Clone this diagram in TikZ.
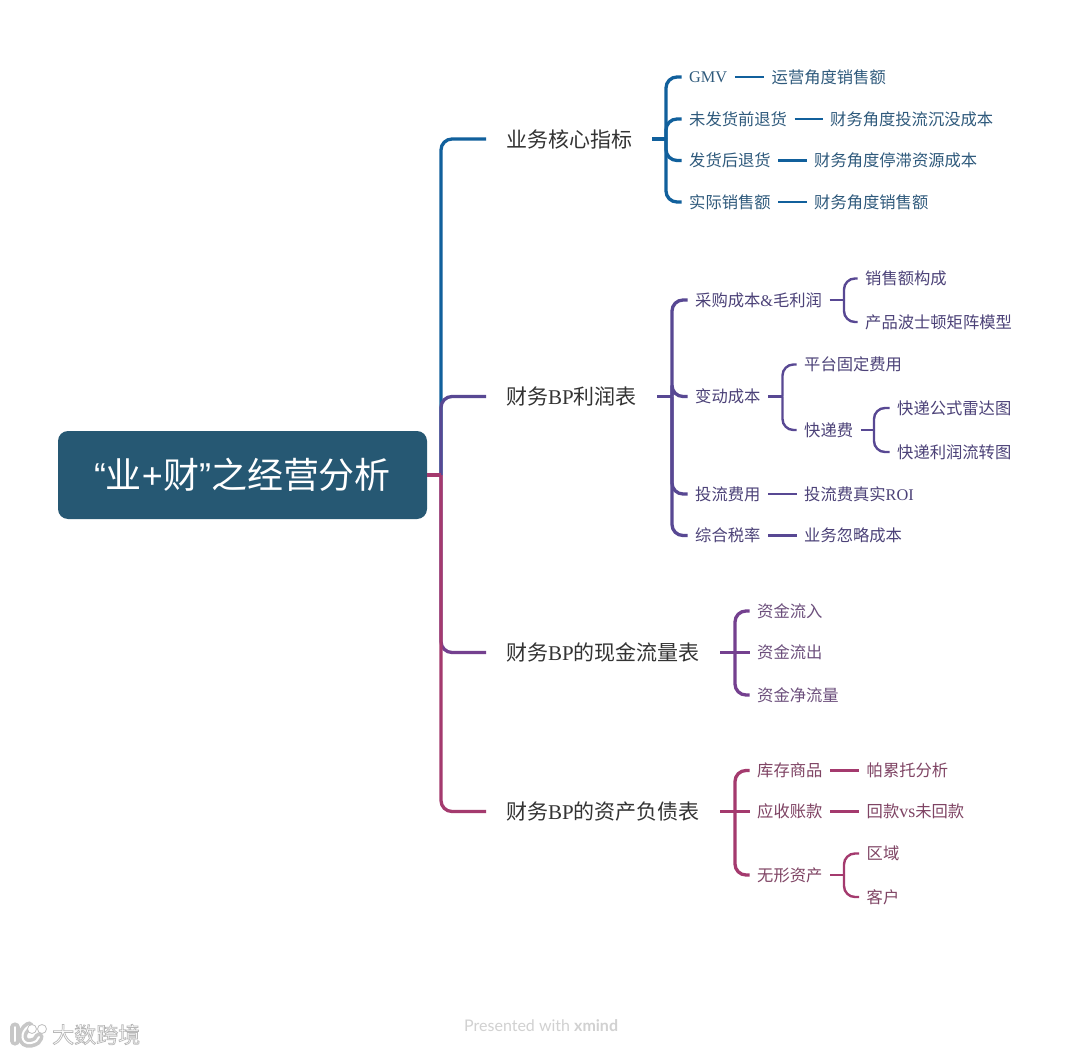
\documentclass[tikz,border=0pt]{standalone}
\usepackage{fontspec}
\setmainfont{Noto Sans CJK SC}
\newfontfamily\latinfont{Liberation Serif}
\newfontfamily\rootfont{Liberation Sans}
\newfontfamily\markfont{Lato}
\definecolor{rootblue}{HTML}{265873}
\definecolor{bizblue}{HTML}{11609C}
\definecolor{bizink}{HTML}{2F5A7C}
\definecolor{profitviolet}{HTML}{584893}
\definecolor{profitink}{HTML}{4C4278}
\definecolor{cashplum}{HTML}{74408F}
\definecolor{cashink}{HTML}{6C4F7C}
\definecolor{assetrose}{HTML}{A43A6E}
\definecolor{assetink}{HTML}{7F4464}
\definecolor{topicink}{HTML}{333333}
\tikzset{
 rootbox/.style={fill=rootblue,rounded corners=10,minimum width=369,minimum height=88,inner sep=0,text=white,font=\fontsize{36}{40}\selectfont},
 topic/.style={anchor=west,inner xsep=20,inner ysep=0,text=topicink,font=\fontsize{21}{25}\selectfont},
 item/.style={anchor=west,inner xsep=7.5,inner ysep=0,font=\fontsize{16.3}{20}\selectfont},
 link/.style={line width=3.3,rounded corners=11},
 thin link/.style={line width=2.4,rounded corners=11},
}
\begin{document}
\begin{tikzpicture}[x=1pt,y=-1pt]
\useasboundingbox (0,0) rectangle (1080,1054);
\fill[white] (0,0) rectangle (1080,1054);
\node[rootbox] (root) at (242.5,475) {\raisebox{-1.5pt}{{\rootfont “}业{\rootfont +}财{\rootfont ”}之经营分析}};
\coordinate (mainbar) at (441,475);
%
\node[topic] (biz) at (486,139) {业务核心指标};
\node[topic] (profit) at (486,396.5) {财务{\latinfont BP}利润表};
\node[topic] (cash) at (486,652.5) {财务{\latinfont BP}的现金流量表};
\node[topic] (asset) at (486,811.5) {财务{\latinfont BP}的资产负债表};
\draw[link,bizblue] (root.east -| mainbar) |- (biz.west);
\draw[link,profitviolet] (root.east -| mainbar) |- (profit.west);
\draw[link,cashplum] (root.east -| mainbar) |- (cash.west);
\draw[link,assetrose] (root.east -| mainbar) |- (asset.west);
\draw[line width=3.3,assetrose] (root.east) -- (root.east -| mainbar);
% first topic
\begin{scope}[bizblue]
\coordinate (bizbar) at (666,139);
\node[item,text=bizink] (gmv) at (681.5,77) {{\latinfont GMV}};
\node[item,text=bizink] (gmvnote) at (764,77) {运营角度销售额};
\node[item,text=bizink] (before) at (681.5,119) {未发货前退货};
\node[item,text=bizink] (beforenote) at (822.5,119) {财务角度投流沉没成本};
\node[item,text=bizink] (after) at (681.5,160.5) {发货后退货};
\node[item,text=bizink] (afternote) at (806.5,160.5) {财务角度停滞资源成本};
\node[item,text=bizink] (sales) at (681.5,202) {实际销售额};
\node[item,text=bizink] (salesnote) at (806.5,202) {财务角度销售额};
\draw[line width=3.3] (biz.east) -- (biz.east -| bizbar);
\draw[link] (biz.east -| bizbar) |- (gmv.west);
\draw[link] (biz.east -| bizbar) |- (before.west);
\draw[link] (biz.east -| bizbar) |- (after.west);
\draw[link] (biz.east -| bizbar) |- (sales.west);
\draw[line width=2.4] (gmv) -- (gmvnote);
\draw[line width=2.4] (before) -- (beforenote);
\draw[line width=2.4] (after) -- (afternote);
\draw[line width=2.4] (sales) -- (salesnote);
\end{scope}
% second topic
\begin{scope}[profitviolet]
\coordinate (profitbar) at (672,396.5);
\coordinate (purchasebar) at (844,300);
\coordinate (varbar) at (782.5,396.5);
\coordinate (expressbar) at (874,430);
\node[item,text=profitink] (purchase) at (687.5,300) {采购成本{\latinfont\&}毛利润};
\node[item,text=profitink] (mix) at (857.5,278.5) {销售额构成};
\node[item,text=profitink] (bcg) at (857.5,322) {产品波士顿矩阵模型};
\node[item,text=profitink] (variable) at (687.5,396.5) {变动成本};
\node[item,text=profitink] (platform) at (796.5,364.5) {平台固定费用};
\node[item,text=profitink] (express) at (796.5,430) {快递费};
\node[item,text=profitink] (radar) at (889.5,408) {快递公式雷达图};
\node[item,text=profitink] (flow) at (889.5,452) {快递利润流转图};
\node[item,text=profitink] (ads) at (687.5,494) {投流费用};
\node[item,text=profitink] (roi) at (796.5,494) {投流费真实{\latinfont ROI}};
\node[item,text=profitink] (tax) at (687.5,535.5) {综合税率};
\node[item,text=profitink] (hidden) at (796.5,535.5) {业务忽略成本};
\draw[line width=3.3] (profit.east) -- (profit.east -| profitbar);
\draw[link] (profit.east -| profitbar) |- (purchase.west);
\draw[link] (profit.east -| profitbar) |- (variable.west);
\draw[link] (profit.east -| profitbar) |- (ads.west);
\draw[link] (profit.east -| profitbar) |- (tax.west);
\draw[line width=2.4] (purchase.east) -- (purchase.east -| purchasebar);
\draw[thin link] (purchase.east -| purchasebar) |- (mix.west);
\draw[thin link] (purchase.east -| purchasebar) |- (bcg.west);
\draw[line width=2.4] (variable.east) -- (variable.east -| varbar);
\draw[thin link] (variable.east -| varbar) |- (platform.west);
\draw[thin link] (variable.east -| varbar) |- (express.west);
\draw[line width=2.4] (express.east) -- (express.east -| expressbar);
\draw[thin link] (express.east -| expressbar) |- (radar.west);
\draw[thin link] (express.east -| expressbar) |- (flow.west);
\draw[line width=2.4] (ads) -- (roi);
\draw[line width=2.4] (tax) -- (hidden);
\end{scope}
% third topic
\begin{scope}[cashplum]
\coordinate (cashbar) at (735,652.5);
\node[item,text=cashink] (inflow) at (749.5,611) {资金流入};
\node[item,text=cashink] (outflow) at (749.5,652.5) {资金流出};
\node[item,text=cashink] (netflow) at (749.5,695) {资金净流量};
\draw[line width=3.3] (cash.east) -- (cash.east -| cashbar);
\draw[link] (cash.east -| cashbar) |- (inflow.west);
\draw[line width=3.3] (cash.east -| cashbar) -- (outflow.west);
\draw[link] (cash.east -| cashbar) |- (netflow.west);
\end{scope}
% fourth topic
\begin{scope}[assetrose]
\coordinate (assetbar) at (735,811.5);
\coordinate (intanbar) at (844,875);
\node[item,text=assetink] (stock) at (749.5,770.5) {库存商品};
\node[item,text=assetink] (pareto) at (859,770.5) {帕累托分析};
\node[item,text=assetink] (recv) at (749.5,811.5) {应收账款};
\node[item,text=assetink] (repay) at (859,811.5) {回款{\latinfont\fontsize{18}{20}\selectfont vs}未回款};
\node[item,text=assetink] (intan) at (749.5,875) {无形资产};
\node[item,text=assetink] (region) at (859,853.5) {区域};
\node[item,text=assetink] (client) at (859,897) {客户};
\draw[line width=3.3] (asset.east) -- (asset.east -| assetbar);
\draw[link] (asset.east -| assetbar) |- (stock.west);
\draw[line width=3.3] (asset.east -| assetbar) -- (recv.west);
\draw[link] (asset.east -| assetbar) |- (intan.west);
\draw[line width=2.4] (stock) -- (pareto);
\draw[line width=2.4] (recv) -- (repay);
\draw[line width=2.4] (intan.east) -- (intan.east -| intanbar);
\draw[thin link] (intan.east -| intanbar) |- (region.west);
\draw[thin link] (intan.east -| intanbar) |- (client.west);
\end{scope}
% footer
\node[anchor=west,inner sep=0,text=black!18,font=\markfont\fontsize{16}{18}\selectfont] (credit) at (464,1025.5) {Presented with \textbf{xmind}};
\draw[black!22,double=white,line width=3.6,double distance=2,line cap=round] (15,1027) -- (15,1041);
\draw[black!22,double=white,line width=3.6,double distance=2,line cap=round] (29,1026) .. controls (19,1032) and (21,1045) .. (31,1043) .. controls (36,1042) and (38,1040) .. (39,1037);
\draw[black!25,line width=0.8,fill=white] (32,1029) circle (4.5) (42,1029) circle (4.5);
\node[anchor=west,inner sep=0,text=white,font=\fontsize{22}{24}\selectfont] (mark) at (52,1034.5) {\special{pdf:code 2 Tr 0.7 w 0.72 G}大数跨境\special{pdf:code 0 Tr}};
\end{tikzpicture}
\end{document}
